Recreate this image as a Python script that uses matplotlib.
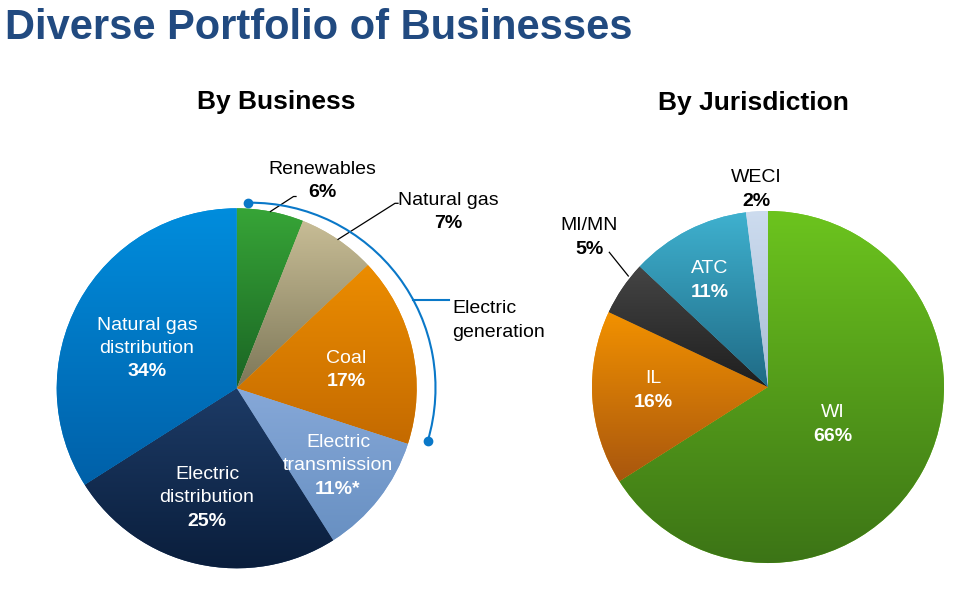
import numpy as np
import matplotlib
matplotlib.use("Agg")
import matplotlib.pyplot as plt
from matplotlib.colors import to_rgb
from matplotlib.patches import Arc

plt.rcParams['font.family'] = ['Liberation Sans', 'DejaVu Sans']

W, H = 971, 589

# By Business (clockwise from 12 o'clock)
business = ['Renewables', 'Natural gas', 'Coal', 'Electric\ntransmission',
            'Electric\ndistribution', 'Natural gas\ndistribution']
business_share = [6, 7, 17, 11, 25, 34]
business_pct = ['6%', '7%', '17%', '11%*', '25%', '34%']
business_top = ['#37a537', '#c8bd96', '#ec8d00', '#86a8d8', '#1d3b66', '#008ddd']
business_bottom = ['#1a6424', '#7d7758', '#c46a00', '#6890c2', '#0a1e3c', '#0060a8']

# By Jurisdiction
jurisdiction = ['WI', 'IL', 'MI/MN', 'ATC', 'WECI']
jurisdiction_share = [66, 16, 5, 11, 2]
jurisdiction_pct = ['66%', '16%', '5%', '11%', '2%']
jurisdiction_top = ['#6cc41e', '#f39200', '#454545', '#3fb1cf', '#cddcef']
jurisdiction_bottom = ['#3c7416', '#a8560e', '#1e1e1e', '#1f6a85', '#a9bdd6']

fig = plt.figure(figsize=(W / 100, H / 100), dpi=100)
ax = fig.add_axes([0, 0, 1, 1])


def py(y):
    # pixel row (from top) -> data y
    return H - y


def shade(wedges, tops, bottoms):
    # vertical gradient inside every wedge
    t = np.linspace(0, 1, 128)[:, None]
    for w, c1, c2 in zip(wedges, tops, bottoms):
        ext = w.get_path().get_extents()
        img = (1 - t) * np.array(to_rgb(c1)) + t * np.array(to_rgb(c2))
        im = ax.imshow(img[:, None, :], extent=(ext.x0 - 1, ext.x1 + 1, ext.y0 - 1, ext.y1 + 1),
                       origin='upper', aspect='auto', interpolation='bilinear', zorder=2)
        im.set_clip_path(w)
        w.set_facecolor(c1)


def label(x, y, name, pct, color, step=23.4, size=14):
    lines = name.split('\n')
    for i, s in enumerate(lines):
        ax.text(x, py(y + i * step) - 6.7, s, ha='center', va='baseline',
                fontsize=size, color=color, zorder=5)
    ax.text(x, py(y + len(lines) * step) - 6.7, pct, ha='center', va='baseline',
            fontsize=size, fontweight='bold', color=color, zorder=5)


# left pie
lw, _ = ax.pie(business_share, startangle=90, counterclock=False,
               center=(236.7, py(388.3)), radius=180,
               wedgeprops=dict(linewidth=0))
shade(lw, business_top, business_bottom)

# right pie
rw, _ = ax.pie(jurisdiction_share, startangle=90, counterclock=False,
               center=(768, py(387)), radius=176,
               wedgeprops=dict(linewidth=0))
shade(rw, jurisdiction_top, jurisdiction_bottom)

# labels
business_pos = [(322, 167), (448, 198), (346, 356), (338, 440), (207, 472), (147, 323)]
business_col = ['black', 'black', 'white', 'white', 'white', 'white']
for name, pct, (x, y), c in zip(business, business_pct, business_pos, business_col):
    label(x, y, name, pct, c)

jur_pos = [(833, 410), (653, 376), (589, 223), (710, 266), (756, 175)]
jur_col = ['white', 'white', 'black', 'white', 'black']
for name, pct, (x, y), c in zip(jurisdiction, jurisdiction_pct, jur_pos, jur_col):
    label(x, y, name, pct, c, step=24)

# leader lines
leaders = [[(270.4, 211.5), (293.5, 196.5), (296, 196.5)],
           [(338, 239.4), (395, 203.3), (398, 203.3)],
           [(628.3, 276), (609.3, 252.3)]]
for pts in leaders:
    xs = [p[0] for p in pts]
    ys = [py(p[1]) for p in pts]
    ax.plot(xs, ys, color='black', lw=0.9, zorder=4)

# electric generation bracket
gen_c = (250.3, py(387.9))
gen_r = 185.2
blue = '#0a78c8'
ax.add_patch(Arc(gen_c, 2 * gen_r, 2 * gen_r, theta1=-16.7, theta2=90.6,
                 color=blue, lw=1.5, zorder=4))
for a in (-16.7, 90.6):
    ax.plot(gen_c[0] + gen_r * np.cos(np.deg2rad(a)), gen_c[1] + gen_r * np.sin(np.deg2rad(a)),
            'o', color=blue, ms=6, zorder=5)
a = np.deg2rad(28.4)
ax.plot([gen_c[0] + gen_r * np.cos(a), 449], [gen_c[1] + gen_r * np.sin(a)] * 2,
        color=blue, lw=1.5, zorder=4)
ax.text(452, py(306) - 6.7, 'Electric', fontsize=14, ha='left', va='baseline')
ax.text(452, py(330) - 6.7, 'generation', fontsize=14, ha='left', va='baseline')

# titles
ax.text(5, py(39), 'Diverse Portfolio of Businesses', fontsize=30, fontweight='bold',
        color='#214a80', ha='left', va='baseline')
ax.text(276, py(109.5), 'By Business', fontsize=19, fontweight='bold', ha='center', va='baseline')
ax.text(753, py(110), 'By Jurisdiction', fontsize=19, fontweight='bold', ha='center', va='baseline')

ax.set_xlim(0, W)
ax.set_ylim(0, H)
ax.set_aspect('auto')
ax.axis('off')

fig.savefig('out.png', dpi=100)
